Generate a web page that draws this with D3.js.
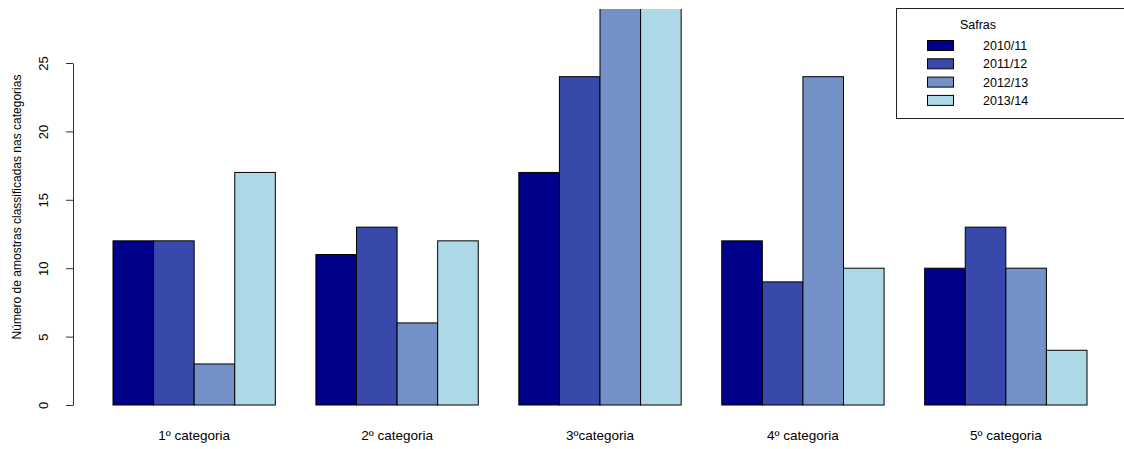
<!DOCTYPE html>
<html>
<head>
<meta charset="utf-8">
<script src="https://cdn.jsdelivr.net/npm/d3@7"></script>
<style>
  body { margin: 0; background: #fff; }
  svg { display: block; font-family: "Liberation Sans", Arial, sans-serif; }
</style>
</head>
<body>
<div id="chart"></div>
<script>
var categories = ['1º categoria', '2º categoria', '3ºcategoria', '4º categoria', '5º categoria'];
var safras = ['2010/11', '2011/12', '2012/13', '2013/14'];
// one array per safra, one value per categoria
var s2010 = [12, 11, 17, 12, 10];
var s2011 = [12, 13, 24, 9, 13];
var s2012 = [3, 6, 29, 24, 10];
var s2013 = [17, 12, 29, 10, 4];
var yTicks = [0, 5, 10, 15, 20, 25];
var colors = ['#00008B', '#3949AB', '#7391C6', '#ADD8E6'];

var series = [s2010, s2011, s2012, s2013];
var width = 1124, height = 449;
var plotTop = 9, plotBottom = 405;

var svg = d3.select('#chart').append('svg')
    .attr('width', width)
    .attr('height', height);

var x0 = d3.scaleBand()
    .domain(categories)
    .range([113, 1087])
    .paddingInner(0.2)
    .paddingOuter(0);

var x1 = d3.scaleBand()
    .domain(safras)
    .range([0, x0.bandwidth()])
    .padding(0);

var y = d3.scaleLinear()
    .domain([0, 25])
    .range([plotBottom, 63]);

svg.append('clipPath').attr('id', 'plot-clip')
    .append('rect')
    .attr('x', 0).attr('y', plotTop)
    .attr('width', width).attr('height', plotBottom - plotTop + 2);

var groups = svg.append('g')
    .attr('clip-path', 'url(#plot-clip)')
    .selectAll('g')
    .data(categories)
    .enter()
    .append('g')
    .attr('transform', function (d) { return 'translate(' + x0(d) + ',0)'; });

groups.selectAll('rect')
    .data(function (d, i) {
        return safras.map(function (s, j) { return { safra: s, value: series[j][i], idx: j }; });
    })
    .enter()
    .append('rect')
    .attr('x', function (d) { return x1(d.safra); })
    .attr('y', function (d) { return y(d.value); })
    .attr('width', x1.bandwidth())
    .attr('height', function (d) { return y(0) - y(d.value); })
    .attr('fill', function (d) { return colors[d.idx]; })
    .attr('stroke', '#000')
    .attr('stroke-width', 1);

// y axis
var yAxis = svg.append('g')
    .attr('transform', 'translate(73,0)')
    .call(d3.axisLeft(y).tickValues(yTicks).tickSize(7).tickSizeOuter(0));
yAxis.select('.domain').attr('stroke', '#333');
yAxis.selectAll('.tick line').attr('stroke', '#333');
yAxis.selectAll('.tick text')
    .attr('font-size', 13)
    .attr('font-family', '"Liberation Sans", Arial, sans-serif')
    .attr('fill', '#000')
    .attr('x', null)
    .attr('dy', null)
    .attr('text-anchor', 'middle')
    .attr('transform', 'translate(-25,0) rotate(-90)');

svg.append('text')
    .attr('transform', 'translate(21,' + ((plotTop + plotBottom) / 2) + ') rotate(-90)')
    .attr('text-anchor', 'middle')
    .attr('font-size', 12)
    .text('Número de amostras classificadas nas categorias');

// category labels
svg.append('g').selectAll('text')
    .data(categories)
    .enter()
    .append('text')
    .attr('x', function (d) { return x0(d) + x0.bandwidth() / 2; })
    .attr('y', 440)
    .attr('text-anchor', 'middle')
    .attr('font-size', 13.5)
    .text(function (d) { return d; });

// legend
var legend = svg.append('g');
legend.append('rect')
    .attr('x', 896.5).attr('y', 8.5)
    .attr('width', 240).attr('height', 110)
    .attr('fill', '#fff')
    .attr('stroke', '#222');
legend.append('text')
    .attr('x', 978).attr('y', 29)
    .attr('text-anchor', 'middle')
    .attr('font-size', 12.5)
    .text('Safras');
var legendItem = legend.selectAll('.legend_item')
    .data(safras)
    .enter()
    .append('g')
    .attr('transform', function (d, i) { return 'translate(0,' + (45 + i * 18.3) + ')'; });
legendItem.append('rect')
    .attr('x', 927.5).attr('y', -4.5)
    .attr('width', 26).attr('height', 10)
    .attr('fill', function (d, i) { return colors[i]; })
    .attr('stroke', '#000');
legendItem.append('text')
    .attr('x', 983).attr('y', 5)
    .attr('font-size', 12.5)
    .text(function (d) { return d; });
</script>
</body>
</html>
